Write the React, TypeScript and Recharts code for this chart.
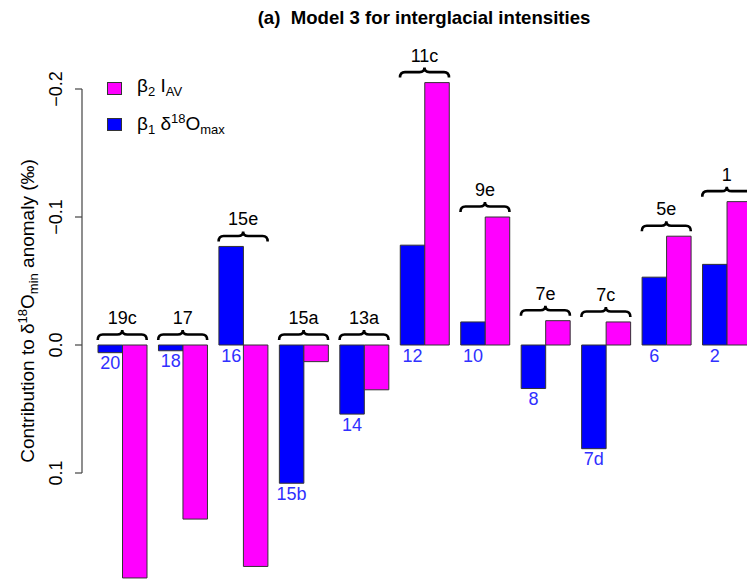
import React from "react"
import { Bar, ComposedChart, LabelList, Legend, Line, XAxis, YAxis } from "recharts"

// interglacial groups (black, over braces) and the stage under each blue bar
const groups = ["19c", "17", "15e", "15a", "13a", "11c", "9e", "7e", "7c", "5e", "1"]
const stages = ["20", "18", "16", "15b", "14", "12", "10", "8", "7d", "6", "2"]

// beta1 * d18Omax (blue) and beta2 * I_AV (magenta)
const beta1 = [0.006, 0.0045, -0.077, 0.108, 0.054, -0.078, -0.018, 0.034, 0.081, -0.053, -0.063]
const beta2 = [0.182, 0.136, 0.173, 0.013, 0.035, -0.205, -0.1, -0.019, -0.018, -0.085, -0.112]

const yTicks = [-0.2, -0.1, 0, 0.1]
const tickLabels = ["\u22120.2", "\u22120.1", "0.0", "0.1"]

const BLUE = "#0000ff"
const MAGENTA = "#ff00ff"

const data = groups.map((g, i) => ({
  group: g,
  stage: stages[i],
  b1: beta1[i],
  b2: beta2[i],
  top: Math.min(0, beta1[i], beta2[i]),
}))

const Y_MIN = -0.25
const Y_MAX = 0.2
const CHART_W = 762
const CHART_H = 620
const MARGIN = { top: 25, right: 5, bottom: 19, left: 0 }
const PLOT_H = CHART_H - MARGIN.top - MARGIN.bottom
const TICK_STEP = (PLOT_H * 0.1) / (Y_MAX - Y_MIN)
const BAR_W = 24.5

function YTick(props: any) {
  const { x, y, index } = props
  const ax = x - 10
  return (
    <g>
      {index < yTicks.length - 1 && (
        <line x1={ax} x2={ax} y1={y} y2={y + TICK_STEP} stroke="#444" strokeWidth={1.2} />
      )}
      <line x1={ax - 7} x2={ax} y1={y} y2={y} stroke="#444" strokeWidth={1.2} />
      <text transform={`translate(${ax - 20},${y}) rotate(-90)`} textAnchor="middle" fontSize={18} fill="#000">
        {tickLabels[index]}
      </text>
    </g>
  )
}

function YLabel(props: any) {
  const vb = props.viewBox || { x: 0, y: MARGIN.top }
  const x = vb.x + 34
  const y = vb.y + 286
  return (
    <text transform={`translate(${x},${y}) rotate(-90)`} textAnchor="middle" fontSize={19} fill="#000">
      Contribution to δ
      <tspan dy={-7} fontSize={13}>18</tspan>
      <tspan dy={7}>O</tspan>
      <tspan dy={4} fontSize={13}>min</tspan>
      <tspan dy={-4}> anomaly (‰)</tspan>
    </text>
  )
}

function renderBrace(props: any) {
  const { cx, cy, index, payload } = props
  const x0 = cx - BAR_W
  const x1 = cx + BAR_W
  const yb = cy - 5
  const ya = cy - 10.5
  const yp = cy - 15
  const d = `M${x0},${yb} Q${x0},${ya} ${x0 + 5},${ya} L${cx - 5},${ya} Q${cx},${ya} ${cx},${yp} Q${cx},${ya} ${cx + 5},${ya} L${x1 - 5},${ya} Q${x1},${ya} ${x1},${yb}`
  return (
    <g key={`brace-${index}`}>
      <path d={d} fill="none" stroke="#000" strokeWidth={2.6} />
      <text x={cx} y={cy - 21} textAnchor="middle" fontSize={18} fill="#000">
        {payload.group}
      </text>
    </g>
  )
}

function StageLabel(props: any) {
  const { x, y, width, height, value } = props
  const bottom = Math.max(y, y + height)
  return (
    <text x={x + width / 2} y={bottom + 16.5} textAnchor="middle" fontSize={18} fill="#3030ff">
      {value}
    </text>
  )
}

function LegendBox() {
  const sq = (c: string) => (
    <span
      style={{
        display: "inline-block",
        width: 13,
        height: 11,
        background: c,
        border: "1px solid #333",
        marginRight: 15,
      }}
    />
  )
  const sub = { fontSize: 13, verticalAlign: "-4px" }
  const sup = { fontSize: 13, verticalAlign: "7px" }
  return (
    <div style={{ fontSize: 19, lineHeight: "27px", color: "#000" }}>
      <div style={{ display: "flex", alignItems: "center" }}>
        {sq(MAGENTA)}
        <span>
          β<span style={sub}>2</span> I<span style={sub}>AV</span>
        </span>
      </div>
      <div style={{ display: "flex", alignItems: "center" }}>
        {sq(BLUE)}
        <span>
          β<span style={sub}>1</span> δ<span style={sup}>18</span>O<span style={sub}>max</span>
        </span>
      </div>
    </div>
  )
}

export default function App() {
  return (
    <div
      style={{
        position: "fixed",
        left: 0,
        top: 0,
        width: 747,
        height: 582,
        overflow: "hidden",
        background: "#fff",
        fontFamily: "'Liberation Sans', Arial, Helvetica, sans-serif",
      }}
    >
      <div
        style={{
          position: "absolute",
          left: 0,
          width: 848,
          top: 7,
          textAlign: "center",
          fontWeight: "bold",
          fontSize: 18.6,
          zIndex: 2,
        }}
      >
        (a)&nbsp;&nbsp;Model 3 for interglacial intensities
      </div>
      <ComposedChart width={CHART_W} height={CHART_H} data={data} margin={MARGIN} barGap={0}>
        <XAxis dataKey="group" hide />
        <YAxis
          type="number"
          domain={[Y_MIN, Y_MAX]}
          allowDataOverflow
          reversed
          ticks={yTicks}
          width={92}
          axisLine={false}
          tickLine={false}
          tickSize={0}
          tickMargin={0}
          tick={<YTick />}
          label={<YLabel />}
        />
        <Legend
          layout="vertical"
          align="center"
          verticalAlign="middle"
          wrapperStyle={{ left: 107, top: 72, width: 200, height: 60 }}
          content={() => <LegendBox />}
        />
        <Bar dataKey="b1" barSize={BAR_W} fill={BLUE} stroke="#333" strokeWidth={1} isAnimationActive={false}>
          <LabelList dataKey="stage" content={<StageLabel />} />
        </Bar>
        <Bar dataKey="b2" barSize={BAR_W} fill={MAGENTA} stroke="#333" strokeWidth={1} isAnimationActive={false} />
        <Line
          dataKey="top"
          stroke="none"
          dot={renderBrace}
          activeDot={false}
          legendType="none"
          isAnimationActive={false}
        />
      </ComposedChart>
    </div>
  )
}
